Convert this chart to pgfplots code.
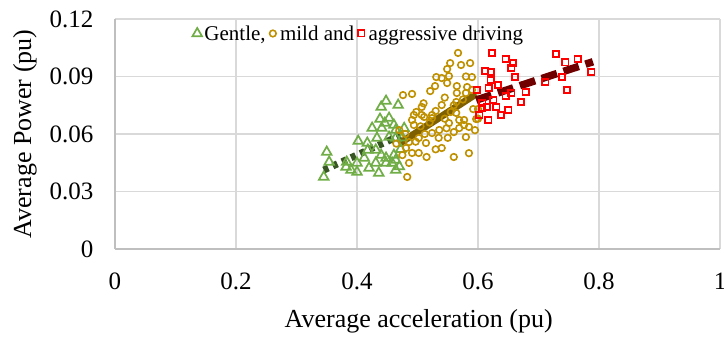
\documentclass[border=0pt]{standalone}
\usepackage{fontspec}
\setmainfont{Liberation Serif}
\usepackage{pgfplots}
\pgfplotsset{compat=1.18}
\definecolor{gridgray}{RGB}{217,217,217}
\definecolor{axgray}{RGB}{191,191,191}
\definecolor{gentle}{RGB}{112,173,71}
\definecolor{mild}{RGB}{191,144,0}
\definecolor{aggr}{RGB}{255,0,0}
\definecolor{tgreen}{RGB}{55,86,35}
\definecolor{tgold}{RGB}{127,96,0}
\definecolor{tred}{RGB}{112,0,0}
\begin{document}
\begin{tikzpicture}
\begin{axis}[
  scale only axis, width=605pt, height=230pt,
  xmin=0, xmax=1, ymin=0, ymax=0.12,
  xtick={0,0.2,0.4,0.6,0.8,1},
  ytick={0,0.03,0.06,0.09,0.12},
  yticklabels={0,0.03,0.06,0.09,0.12},
  xticklabels={0,0.2,0.4,0.6,0.8,1},
  axis x line=bottom, axis y line=left,
  axis line style={axgray, line width=1.3pt, -},
  grid=major, major grid style={gridgray, line width=1.3pt},
  tick style={draw=none},
  tick label style={font=\fontsize{25}{28}\selectfont},
  xticklabel style={yshift=-18pt},
  yticklabel style={xshift=-16pt},
  xlabel={Average acceleration (pu)},
  ylabel={Average Power (pu)},
  label style={font=\fontsize{26}{30}\selectfont},
  xlabel style={at={(axis description cs:0.502,-0.313)}, anchor=center},
  ylabel style={at={(axis description cs:-0.149,0.5)}, anchor=center, rotate=0},
  legend columns=3,
  legend style={draw=none, fill=none, font=\fontsize{21}{24}\selectfont,
    at={(axis description cs:0.127,0.937)}, anchor=west,
    inner sep=0pt, /tikz/every even column/.append style={column sep=0pt}},
  legend image code/.code={\path (0pt,0pt) (10pt,0pt); \draw[#1] plot coordinates {(5pt,0pt)};},
  clip=false,
]
\addplot[only marks, mark=triangle, mark size=5.5pt, color=gentle, mark options={line width=1.7pt}] table {
x y
0.448 0.0772
0.468 0.0751
0.440 0.0741
0.438 0.0678
0.453 0.0683
0.446 0.0657
0.425 0.0631
0.441 0.0631
0.461 0.0647
0.464 0.0621
0.402 0.0563
0.417 0.0553
0.433 0.0579
0.453 0.0584
0.464 0.0579
0.418 0.0517
0.431 0.0517
0.440 0.0490
0.448 0.0475
0.461 0.0490
0.464 0.0464
0.350 0.0506
0.354 0.0454
0.382 0.0428
0.390 0.0412
0.400 0.0449
0.412 0.0475
0.420 0.0423
0.436 0.0397
0.448 0.0449
0.464 0.0412
0.345 0.0376
0.400 0.0402
0.383 0.0454
0.431 0.0449
0.458 0.0449
0.475 0.0580
0.472 0.0520
0.470 0.0430
0.478 0.0630
};
\addlegendentry{Gentle,}
\addplot[only marks, mark=o, mark size=3.3pt, color=mild, mark options={line width=1.6pt}] table {
x y
0.567 0.1023
0.554 0.0970
0.572 0.0960
0.587 0.0970
0.549 0.0939
0.531 0.0897
0.540 0.0892
0.552 0.0902
0.590 0.0897
0.549 0.0866
0.529 0.0850
0.521 0.0824
0.582 0.0845
0.476 0.0803
0.491 0.0809
0.565 0.0814
0.580 0.0814
0.540 0.0751
0.564 0.0767
0.592 0.0730
0.507 0.0741
0.498 0.0715
0.555 0.0715
0.491 0.0673
0.507 0.0699
0.524 0.0683
0.569 0.0673
0.577 0.0647
0.597 0.0678
0.494 0.0699
0.511 0.0689
0.524 0.0699
0.564 0.0710
0.577 0.0673
0.494 0.0647
0.552 0.0657
0.569 0.0631
0.585 0.0637
0.536 0.0621
0.524 0.0605
0.502 0.0579
0.486 0.0558
0.514 0.0553
0.481 0.0527
0.540 0.0527
0.560 0.0610
0.580 0.0584
0.491 0.0501
0.502 0.0501
0.486 0.0449
0.483 0.0376
0.560 0.0480
0.585 0.0500
0.515 0.0480
0.530 0.0520
0.505 0.0640
0.520 0.0660
0.545 0.0680
0.560 0.0750
0.575 0.0780
0.590 0.0830
0.580 0.0900
0.600 0.0730
0.595 0.0620
0.600 0.0680
0.480 0.0600
0.470 0.0620
0.475 0.0490
0.465 0.0550
0.550 0.0580
0.530 0.0720
0.545 0.0790
0.510 0.0760
0.565 0.0850
0.535 0.0580
0.548 0.0630
0.512 0.0600
0.497 0.0560
};
\addlegendentry{mild and}
\addplot[only marks, mark=square, mark size=3.2pt, color=aggr, mark options={line width=1.6pt}] table {
x y
0.623 0.1023
0.646 0.0991
0.658 0.0970
0.655 0.0944
0.612 0.0929
0.621 0.0923
0.661 0.0897
0.621 0.0882
0.633 0.0856
0.618 0.0840
0.598 0.0830
0.655 0.0814
0.646 0.0798
0.679 0.0819
0.625 0.0777
0.607 0.0762
0.671 0.0767
0.615 0.0741
0.630 0.0741
0.607 0.0736
0.650 0.0725
0.638 0.0699
0.602 0.0699
0.617 0.0673
0.711 0.0871
0.729 0.1017
0.744 0.0975
0.739 0.0897
0.747 0.0830
0.765 0.0991
0.787 0.0923
};
\addlegendentry{aggressive driving}
\addplot[forget plot, draw=tgreen, line width=7pt, dash pattern=on 5pt off 5pt] coordinates {(0.345,0.0412) (0.472,0.0593)};
\addplot[forget plot, draw=tgold, line width=7pt] coordinates {(0.469,0.0548) (0.597,0.0809)};
\addplot[forget plot, draw=tred, line width=7.5pt, dash pattern=on 16pt off 7pt] coordinates {(0.597,0.0777) (0.790,0.0977)};
\end{axis}
\pgfresetboundingbox
\path (-115pt,-88pt) rectangle (609pt,249pt);
\end{tikzpicture}
\end{document}
